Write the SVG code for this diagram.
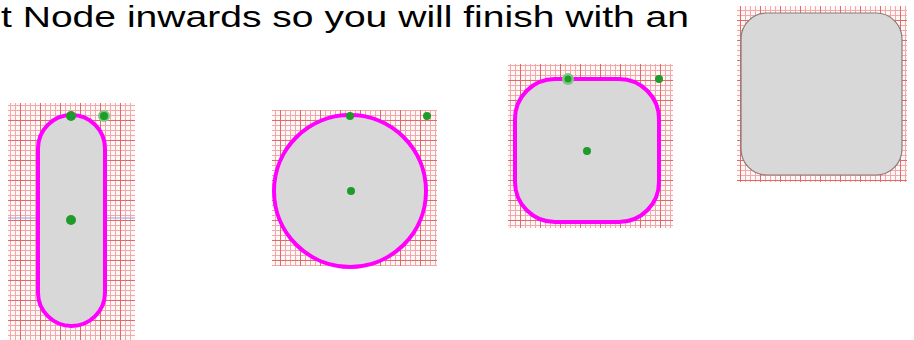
<svg xmlns="http://www.w3.org/2000/svg" width="914" height="340" viewBox="0 0 914 340">
<defs>
<pattern id="grid" width="20" height="20" patternUnits="userSpaceOnUse">
<rect width="20" height="20" fill="#fff8f6"/>
<path d="M0.5 0V20M5.5 0V20M10.5 0V20M15.5 0V20M0 0.5H20M0 5.5H20M0 10.5H20M0 15.5H20" stroke="#f2a8a8" stroke-width="1" fill="none"/>
<path d="M0.5 0V20M0 0.5H20" stroke="#e06a6a" stroke-width="1" fill="none"/>
</pattern>
<style>
.bg{fill:url(#grid)}
.sh{fill:#d8d8d8;stroke:#ff00ff;stroke-width:4}
.dot{fill:#1e9b2a}
.halo{fill:#7fc884}
.axis{stroke:#9a9ae8;stroke-width:1}
</style>
</defs>
<text x="1" y="27" font-family="'Liberation Sans',Arial,sans-serif" font-size="29" fill="#000" textLength="688" lengthAdjust="spacingAndGlyphs">t Node inwards so you will finish with an</text>
<g id="node-pill">
<rect class="bg" x="8" y="103" width="127" height="237"/>
<line class="axis" x1="8" y1="218" x2="135" y2="218"/>
<rect class="sh" x="38" y="115" width="67" height="211" rx="33.5"/>
<circle class="halo" cx="104" cy="116" r="6"/>
<circle class="dot" cx="104" cy="116" r="4"/>
<circle class="dot" cx="71" cy="116" r="5"/>
<circle class="dot" cx="71" cy="220" r="5"/>
</g>
<g id="node-circle">
<rect class="bg" x="272" y="110" width="165" height="156"/>
<circle class="sh" cx="350" cy="191" r="76"/>
<circle class="dot" cx="350" cy="116" r="4"/>
<circle class="dot" cx="427" cy="116" r="4"/>
<circle class="dot" cx="351" cy="191" r="4"/>
</g>
<g id="node-roundsquare">
<rect class="bg" x="508" y="64" width="165" height="164"/>
<rect class="sh" x="515" y="79" width="144" height="143" rx="40"/>
<circle class="halo" cx="568" cy="79" r="6"/>
<circle class="dot" cx="568" cy="79" r="3.5"/>
<circle class="dot" cx="659" cy="79" r="4"/>
<circle class="dot" cx="587" cy="151" r="4"/>
</g>
<g id="node-square">
<rect class="bg" x="737" y="6" width="170" height="176"/>
<rect x="741" y="13" width="161" height="162" rx="26" fill="#d8d8d8" stroke="#8a7a78" stroke-width="1.2"/>
</g>
<g id="connectors"/>
</svg>
